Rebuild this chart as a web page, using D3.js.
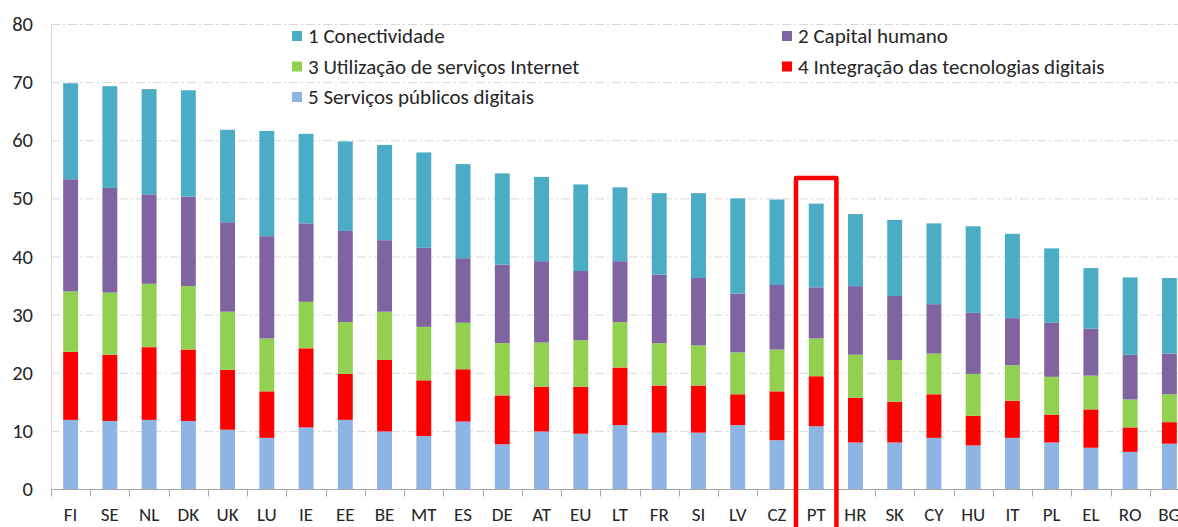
<!DOCTYPE html>
<html>
<head>
<meta charset="utf-8">
<script src="https://cdn.jsdelivr.net/npm/d3@7/dist/d3.min.js"></script>
<style>
  html, body { margin: 0; padding: 0; background: #fff; }
  svg { display: block; }
  text { font-family: Carlito, Calibri, Lato, sans-serif; fill: #262626; }
</style>
</head>
<body>
<svg id="chart"></svg>
<script>
// Country codes, ordered by total score
const countries = ["FI","SE","NL","DK","UK","LU","IE","EE","BE","MT","ES","DE","AT","EU","LT",
  "FR","SI","LV","CZ","PT","HR","SK","CY","HU","IT","PL","EL","RO","BG"];

// Dimension values
const conectividade = [16.5,17.5,18.1,18.3,15.9,18.1,15.4,15.4,16.4,16.4,16.2,15.7,14.5,14.9,12.7,
  14.0,14.6,16.4,14.7,14.4,12.4,13.1,13.9,14.9,14.5,12.8,10.4,13.3,13.0];
const capitalHumano = [19.3,18.0,15.4,15.4,15.4,17.6,13.5,15.7,12.3,13.6,11.1,13.5,14.0,11.9,10.5,
  11.8,11.6,10.1,11.1,8.8,11.8,11.0,8.5,10.5,8.1,9.3,8.1,7.7,7.0];
const utilizacao = [10.4,10.7,10.9,10.9,10.0,9.1,8.0,8.9,8.3,9.2,8.0,9.0,7.6,8.0,7.8,
  7.3,6.9,7.2,7.2,6.5,7.4,7.2,7.0,7.2,6.1,6.5,5.8,4.8,4.8];
const integracao = [11.7,11.4,12.5,12.3,10.3,8.0,13.6,7.9,12.3,9.6,9.0,8.4,7.7,8.1,9.9,
  8.1,8.1,5.3,8.4,8.6,7.7,7.0,7.5,5.1,6.4,4.8,6.6,4.2,3.7];
const servicosPublicos = [11.9,11.7,11.9,11.7,10.2,8.8,10.6,11.9,9.9,9.1,11.6,7.7,9.9,9.5,11.0,
  9.7,9.7,11.0,8.4,10.8,8.0,8.0,8.8,7.5,8.8,8.0,7.1,6.4,7.8];

const seriesNames = ["1 Conectividade","2 Capital humano","3 Utilização de serviços Internet",
  "4 Integração das tecnologias digitais","5 Serviços públicos digitais"];
const yTicks = [0,10,20,30,40,50,60,70,80];

// Highlighted country and how high its frame goes
const highlightCountry = "PT";
const highlightTop = 53.5;

const width = 1178, height = 527;
const margin = { top: 24, left: 51, bottom: 38 };
// plot runs past the right edge, like the original (BG is cut off)
const plotRight = 1189;

const colors = {
  "1 Conectividade": "#4bacc6",
  "2 Capital humano": "#8064a2",
  "3 Utilização de serviços Internet": "#92d050",
  "4 Integração das tecnologias digitais": "#ff0000",
  "5 Serviços públicos digitais": "#8db4e2"
};

// build rows for d3.stack
const rows = countries.map((c, i) => ({
  country: c,
  "1 Conectividade": conectividade[i],
  "2 Capital humano": capitalHumano[i],
  "3 Utilização de serviços Internet": utilizacao[i],
  "4 Integração das tecnologias digitais": integracao[i],
  "5 Serviços públicos digitais": servicosPublicos[i]
}));

// bottom of stack is series 5, top is series 1
const stackKeys = seriesNames.slice().reverse();
const stacked = d3.stack().keys(stackKeys)(rows);

const svg = d3.select("#chart")
  .attr("width", width)
  .attr("height", height);

const x = d3.scaleBand()
  .domain(countries)
  .range([margin.left, plotRight])
  .paddingInner(0.62)
  .paddingOuter(0.31);

const y = d3.scaleLinear()
  .domain([0, 80])
  .range([height - margin.bottom, margin.top]);

// Gridlines (dash-dot, light grey)
svg.append("g")
  .attr("class", "grid")
  .selectAll("line")
  .data(yTicks.filter(t => t > 0))
  .join("line")
  .attr("x1", margin.left)
  .attr("x2", width)
  .attr("y1", d => y(d) + 0.5)
  .attr("y2", d => y(d) + 0.5)
  .attr("stroke", "#d9d9d9")
  .attr("stroke-width", 1)
  .attr("stroke-dasharray", "9,3,2,3");

// Y axis line
svg.append("line")
  .attr("x1", margin.left + 0.5)
  .attr("x2", margin.left + 0.5)
  .attr("y1", y(80))
  .attr("y2", y(0))
  .attr("stroke", "#d9d9d9");

// Y tick labels
const yAxis = svg.append("g")
  .attr("transform", `translate(${margin.left},0)`)
  .call(d3.axisLeft(y).tickValues(yTicks).tickSize(0).tickPadding(18));
yAxis.select(".domain").remove();
yAxis.selectAll("text")
  .attr("font-size", "20.5px")
  .attr("font-family", null)
  .attr("fill", "#262626");

// Stacked bars
svg.append("g")
  .attr("class", "bars")
  .selectAll("g")
  .data(stacked)
  .join("g")
  .attr("fill", d => colors[d.key])
  .selectAll("rect")
  .data(d => d)
  .join("rect")
  .attr("x", d => x(d.data.country))
  .attr("width", x.bandwidth())
  .attr("y", d => y(d[1]))
  .attr("height", d => y(d[0]) - y(d[1]));

// X axis line with ticks between categories
const xAxisY = y(0) + 0.5;
svg.append("line")
  .attr("x1", margin.left)
  .attr("x2", width)
  .attr("y1", xAxisY)
  .attr("y2", xAxisY)
  .attr("stroke", "#a6a6a6");

const step = x.step();
const x0 = x(countries[0]) - x.paddingOuter() * step;
svg.append("g")
  .selectAll("line")
  .data(d3.range(countries.length + 1))
  .join("line")
  .attr("x1", i => Math.round(x0 + i * step) + 0.5)
  .attr("x2", i => Math.round(x0 + i * step) + 0.5)
  .attr("y1", xAxisY)
  .attr("y2", xAxisY + 7)
  .attr("stroke", "#a6a6a6");

// Country labels
svg.append("g")
  .selectAll("text")
  .data(countries)
  .join("text")
  .attr("x", d => x(d) + x.bandwidth() / 2)
  .attr("y", y(0) + 32)
  .attr("text-anchor", "middle")
  .attr("font-size", "19px")
  .text(d => d);

// Red frame around Portugal
const hx = x(highlightCountry) + x.bandwidth() / 2;
const half = step * 0.515;
svg.append("path")
  .attr("d", `M${hx - half},${height + 10}V${y(highlightTop)}H${hx + half}V${height + 10}`)
  .attr("fill", "none")
  .attr("stroke", "#ff0000")
  .attr("stroke-width", 4.5)
  .attr("stroke-linejoin", "round");

// Legend: two columns, Excel-style order
const legendCols = [292, 782];
const legendRows = [36, 66.5, 97];
const legend = svg.append("g")
  .attr("class", "legend")
  .selectAll("g")
  .data(seriesNames)
  .join("g")
  .attr("transform", (d, i) => `translate(${legendCols[i % 2]},${legendRows[Math.floor(i / 2)]})`);

legend.append("rect")
  .attr("x", 0)
  .attr("y", -5)
  .attr("width", 10)
  .attr("height", 10)
  .attr("fill", d => colors[d]);

legend.append("text")
  .attr("x", 16)
  .attr("y", 0)
  .attr("dy", "0.35em")
  .attr("font-size", "21px")
  .text(d => d);
</script>
</body>
</html>
